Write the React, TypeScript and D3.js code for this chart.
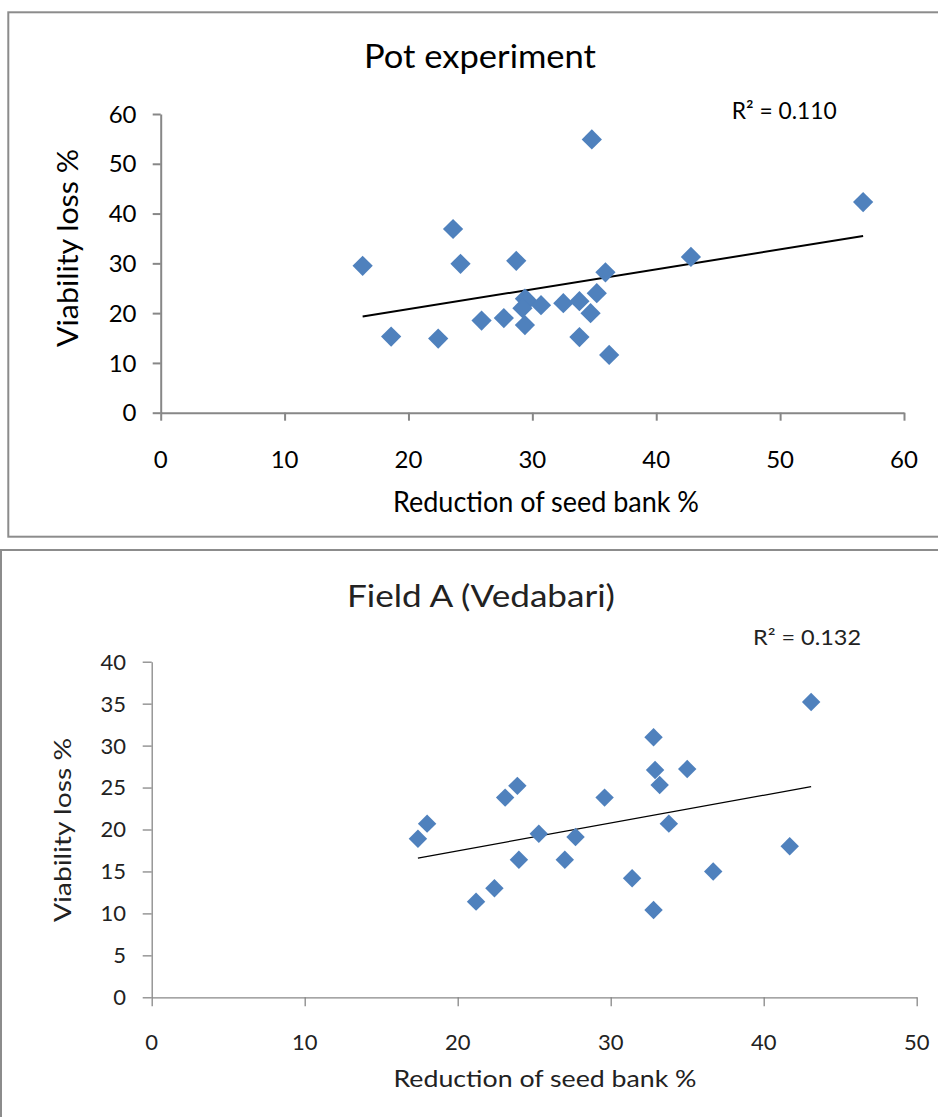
// App.tsx > two Excel-style scatter charts (viability loss vs seed bank reduction)

// react
import React, {useRef, useEffect} from 'react';

// modules
import * as d3 from 'd3';

// data: pot experiment
const potReduction = [16.3, 18.6, 22.4, 23.6, 24.2, 25.9, 27.7, 28.7, 29.4, 29.6, 29.2, 29.4, 30.7, 32.5, 33.8, 35.2, 35.9, 34.7, 33.8, 36.2, 34.8, 42.8, 56.7];
const potViability = [29.5, 15.3, 14.9, 36.9, 29.9, 18.5, 19.0, 30.5, 22.9, 22.5, 21.0, 17.6, 21.6, 22.0, 22.4, 24.0, 28.2, 20.0, 15.2, 11.6, 54.9, 31.3, 42.3];
const potSlope = 0.40;
const potIntercept = 12.8;
const potTicksX = [0, 10, 20, 30, 40, 50, 60];
const potTicksY = [0, 10, 20, 30, 40, 50, 60];
const potTitle = 'Pot experiment';
const potR2 = 'R² = 0.110';

// data: field A
const fieldReduction = [17.4, 18.0, 21.2, 22.4, 23.1, 23.9, 24.0, 25.3, 27.0, 27.7, 29.6, 31.4, 32.8, 32.9, 33.2, 32.8, 33.8, 35.0, 36.7, 41.7, 43.1];
const fieldViability = [18.9, 20.7, 11.4, 13.0, 23.8, 25.2, 16.4, 19.5, 16.4, 19.1, 23.8, 14.2, 31.0, 27.1, 25.3, 10.4, 20.7, 27.2, 15.0, 18.0, 35.2];
const fieldSlope = 0.331;
const fieldIntercept = 10.84;
const fieldTicksX = [0, 10, 20, 30, 40, 50];
const fieldTicksY = [0, 5, 10, 15, 20, 25, 30, 35, 40];
const fieldTitle = 'Field A (Vedabari)';
const fieldR2 = 'R² = 0.132';

const xTitle = 'Reduction of seed bank %';
const potYTitle = 'Viability loss  %';
const fieldYTitle = 'Viability loss %';

const FONT = 'Lato, "Open Sans", sans-serif';
const BLUE = '#4F81BD';
const AXIS = '#878787';

const drawChart = (svg, o) => {
    const g = svg.append('g');

    // frame
    g.append('rect')
        .attr('x', o.frame[0]).attr('y', o.frame[1])
        .attr('width', o.frame[2]).attr('height', o.frame[3])
        .attr('fill', '#fff')
        .attr('stroke', '#8c8c8c')
        .attr('stroke-width', 2);

    const xScale = d3.scaleLinear().domain(d3.extent(o.ticksX)).range(o.xRange);
    const yScale = d3.scaleLinear().domain(d3.extent(o.ticksY)).range(o.yRange);

    // axes
    const yAxis = g.append('g')
        .attr('transform', `translate(${o.xRange[0]},0)`)
        .call(d3.axisLeft(yScale).tickValues(o.ticksY).tickSize(o.tickLen).tickSizeOuter(0).tickFormat(() => ''));
    const xAxis = g.append('g')
        .attr('transform', `translate(0,${o.yRange[0]})`)
        .call(d3.axisBottom(xScale).tickValues(o.ticksX).tickSize(o.tickLen).tickSizeOuter(0).tickFormat(() => ''));
    [xAxis, yAxis].forEach((ax) => {
        ax.selectAll('path, line').attr('stroke', AXIS).attr('stroke-width', o.axisWidth);
        ax.selectAll('text').remove();
    });

    // tick labels
    g.selectAll('.ylab').data(o.ticksY).enter().append('text')
        .attr('x', o.yLabelRight)
        .attr('y', (d) => yScale(d))
        .attr('dy', '0.36em')
        .attr('text-anchor', 'end')
        .attr('font-size', o.tickFont)
        .attr('font-family', FONT)
        .attr('fill', o.textColor)
        .text((d) => d);
    g.selectAll('.xlab').data(o.ticksX).enter().append('text')
        .attr('x', (d) => xScale(d))
        .attr('y', o.xLabelY)
        .attr('dy', '0.36em')
        .attr('text-anchor', 'middle')
        .attr('font-size', o.tickFont)
        .attr('font-family', FONT)
        .attr('fill', o.textColor)
        .text((d) => d);

    // trend line
    const [x0, x1] = d3.extent(o.xs);
    g.append('line')
        .attr('x1', xScale(x0)).attr('y1', yScale(o.intercept + o.slope * x0))
        .attr('x2', xScale(x1)).attr('y2', yScale(o.intercept + o.slope * x1))
        .attr('stroke', '#000')
        .attr('stroke-width', o.trendWidth);

    // points
    const pts = o.xs.map((x, i) => ({x, y: o.ys[i]}));
    g.selectAll('.pt').data(pts).enter().append('path')
        .attr('d', d3.symbol().type(d3.symbolSquare).size(o.markerSize)())
        .attr('transform', (d) => `translate(${xScale(d.x)},${yScale(d.y)}) rotate(45)`)
        .attr('fill', BLUE);

    // texts
    const txt = (x, y, s, size, len, anchor = 'middle', rot = false) => {
        g.append('text')
            .attr('transform', rot ? `translate(${x},${y}) rotate(-90)` : `translate(${x},${y})`)
            .attr('text-anchor', anchor)
            .attr('font-size', size)
            .attr('font-family', FONT)
            .attr('fill', o.textColor)
            .attr('textLength', len)
            .attr('lengthAdjust', 'spacingAndGlyphs')
            .text(s);
    };
    txt(o.title[0], o.title[1], o.titleText, o.title[2], o.title[3]);
    txt(o.xt[0], o.xt[1], xTitle, o.xt[2], o.xt[3]);
    txt(o.yt[0], o.yt[1], o.yTitleText, o.yt[2], o.yt[3], 'middle', true);
    txt(o.r2[0], o.r2[1], o.r2Text, o.r2[2], o.r2[3], 'start');
};

export default function App(){
    const svgRef = useRef(null);

    useEffect(() => {
        const svg = d3.select(svgRef.current);
        svg.selectAll('*').remove();

        drawChart(svg, {
            frame: [8.3, 12.3, 940, 524.4],
            xs: potReduction, ys: potViability,
            slope: potSlope, intercept: potIntercept,
            ticksX: potTicksX, ticksY: potTicksY,
            xRange: [160.7, 904], yRange: [412.7, 114],
            tickLen: 8, axisWidth: 2, trendWidth: 2, markerSize: 205,
            tickFont: 24, yLabelRight: 136.5, xLabelY: 459,
            textColor: '#000',
            titleText: potTitle, title: [480, 68, 32, 232],
            xt: [546, 511.7, 28, 306],
            yTitleText: potYTitle, yt: [78, 248, 28, 198],
            r2Text: potR2, r2: [731.7, 119.3, 23, 105],
        });

        drawChart(svg, {
            frame: [1, 550, 950, 600],
            xs: fieldReduction, ys: fieldViability,
            slope: fieldSlope, intercept: fieldIntercept,
            ticksX: fieldTicksX, ticksY: fieldTicksY,
            xRange: [151.7, 916.7], yRange: [997.3, 661.7],
            tickLen: 9, axisWidth: 1.3, trendWidth: 1.3, markerSize: 170,
            tickFont: 22, yLabelRight: 126, xLabelY: 1041.7,
            textColor: '#222',
            titleText: fieldTitle, title: [481, 607, 30, 268],
            xt: [545, 1087, 24, 303],
            yTitleText: fieldYTitle, yt: [71, 830, 24, 184],
            r2Text: fieldR2, r2: [753, 645, 21, 108],
        });
    }, []);

    return(
        <svg ref={svgRef} width={938} height={1117} style={{position: 'absolute', left: 0, top: 0, background: '#fff'}}></svg>
    )
}
